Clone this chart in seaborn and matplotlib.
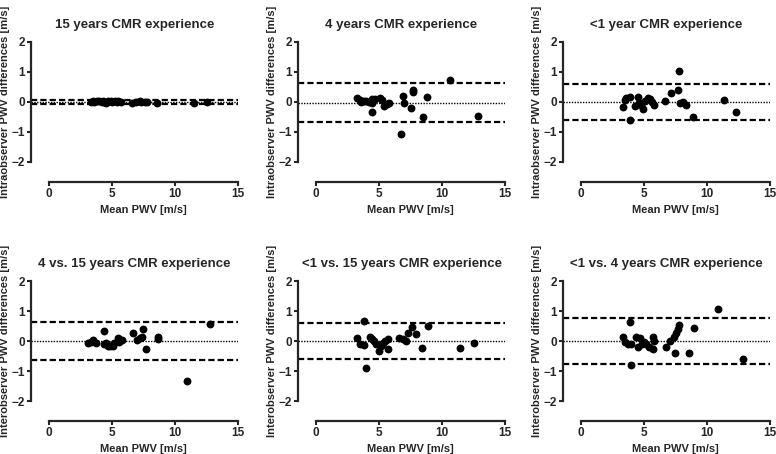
import matplotlib
matplotlib.use("Agg")
import matplotlib.pyplot as plt
import seaborn as sns
import pandas as pd

# Bland-Altman data: mean PWV [m/s] and difference [m/s]
titles = [
    "15 years CMR experience",
    "4 years CMR experience",
    "<1 year CMR experience",
    "4 vs. 15 years CMR experience",
    "<1 vs. 15 years CMR experience",
    "<1 vs. 4 years CMR experience",
]
ylabels = ["Intraobserver PWV differences [m/s]"] * 3 + ["Interobserver PWV differences [m/s]"] * 3

mean1 = [3.3, 3.5, 3.6, 3.8, 4.0, 4.2, 4.3, 4.4, 4.5, 4.7, 4.9, 5.0, 5.2, 5.4, 5.5, 5.7,
         6.6, 6.9, 7.2, 7.3, 7.6, 7.8, 8.6, 11.5, 12.5]
diff1 = [0.01, 0.02, -0.01, 0.02, 0.03, 0.0, 0.04, 0.01, -0.02, 0.02, 0.03, 0.01, 0.02, 0.0, 0.03, 0.01,
         -0.02, 0.0, 0.02, -0.01, 0.01, 0.0, -0.03, -0.02, -0.01]
lim1 = [0.0, 0.07, -0.07]  # bias, upper, lower

mean2 = [3.25, 3.52, 3.57, 3.84, 4.0, 4.23, 4.42, 4.44, 4.42, 4.68, 5.08, 5.21, 5.42, 5.63, 5.77,
         6.75, 6.93, 7.01, 7.54, 7.67, 7.70, 8.52, 8.78, 10.66, 12.86]
diff2 = [0.12, 0.07, -0.01, 0.03, 0.05, -0.01, 0.10, -0.04, -0.32, 0.10, 0.14, 0.07, -0.13, -0.08, -0.04,
         -1.06, 0.20, -0.03, -0.19, 0.40, 0.32, -0.51, 0.18, 0.75, -0.45]
lim2 = [-0.02, 0.63, -0.66]

mean3 = [3.31, 3.49, 3.57, 3.86, 3.92, 4.31, 4.55, 4.63, 4.76, 4.89, 5.08, 5.34, 5.48, 5.66, 5.77,
         6.67, 7.17, 7.70, 7.78, 7.86, 8.07, 8.31, 8.89, 11.38, 12.30]
diff3 = [-0.18, 0.07, 0.12, 0.18, -0.60, -0.13, 0.18, -0.04, -0.10, -0.24, 0.04, 0.12, 0.09, 0.01, -0.09,
         0.03, 0.30, 0.41, 1.04, -0.02, -0.01, -0.09, -0.49, 0.07, -0.32]
lim3 = [0.01, 0.61, -0.59]

mean4 = [3.12, 3.30, 3.51, 3.70, 4.36, 4.33, 4.52, 4.70, 4.83, 5.04, 5.18, 5.44, 5.57, 5.76,
         6.68, 6.97, 7.21, 7.40, 7.42, 7.66, 8.66, 8.66, 10.93, 12.78]
diff4 = [-0.06, -0.02, 0.03, -0.08, 0.35, -0.10, -0.06, -0.17, -0.15, -0.17, -0.06, 0.11, -0.02, 0.03,
         0.28, 0.03, 0.11, 0.15, 0.41, -0.28, 0.15, 0.06, -1.32, 0.58]
lim4 = [0.0, 0.64, -0.64]

mean5 = [3.26, 3.52, 3.84, 3.84, 3.95, 4.29, 4.45, 4.61, 4.80, 4.98, 5.12, 5.30, 5.51, 5.70, 5.72,
         6.57, 6.92, 7.16, 7.32, 7.58, 7.90, 8.45, 8.88, 11.45, 12.51]
diff5 = [0.10, -0.10, 0.66, -0.14, -0.90, 0.15, 0.07, 0.0, -0.10, -0.34, -0.16, -0.06, 0.0, -0.28, 0.07,
         0.10, 0.07, 0.0, 0.27, 0.47, 0.23, -0.23, 0.51, -0.24, -0.06]
lim5 = [0.0, 0.59, -0.59]

mean6 = [3.32, 3.50, 3.72, 3.90, 3.96, 3.96, 4.38, 4.49, 4.67, 4.83, 5.02, 5.18, 5.36, 5.71, 5.71, 5.81,
         6.77, 7.03, 7.35, 7.43, 7.55, 7.68, 7.80, 8.55, 8.95, 10.86, 12.82]
diff6 = [0.15, -0.02, -0.10, 0.62, -0.10, -0.79, 0.15, -0.21, 0.11, -0.10, -0.03, -0.10, -0.19, -0.28, 0.12, 0.0,
         -0.21, 0.0, 0.13, -0.40, 0.27, 0.40, 0.52, -0.40, 0.43, 1.08, -0.61]
lim6 = [0.0, 0.77, -0.76]

means = [mean1, mean2, mean3, mean4, mean5, mean6]
diffs = [diff1, diff2, diff3, diff4, diff5, diff6]
limits = [lim1, lim2, lim3, lim4, lim5, lim6]

sns.set_style("ticks")
plt.rcParams["font.family"] = ["Liberation Sans", "DejaVu Sans"]
plt.rcParams["font.weight"] = "bold"

fig = plt.figure(figsize=(7.76, 4.54), dpi=100)
W, H = 776, 454
col_left = [31, 298, 563]
row_top = [42, 281]
ax_w, ax_h = 207, 120

for i in range(6):
    r, c = divmod(i, 3)
    ax = fig.add_axes([col_left[c] / W, 1 - (row_top[r] + ax_h) / H, ax_w / W, ax_h / H])
    df = pd.DataFrame({"mean": means[i], "diff": diffs[i]})
    sns.scatterplot(data=df, x="mean", y="diff", ax=ax, color="black", s=32,
                    linewidth=0, zorder=3)
    bias, upper, lower = limits[i]
    ax.axhline(bias, color="black", lw=1.0, ls=(0, (1, 1)), zorder=2)
    ax.axhline(upper, color="black", lw=1.6, ls=(0, (2.8, 1.4)), zorder=2)
    ax.axhline(lower, color="black", lw=1.6, ls=(0, (2.8, 1.4)), zorder=2)

    ax.set_xlim(-1.43, 15)
    ax.set_ylim(-2, 2)
    ax.set_xticks([0, 5, 10, 15])
    ax.set_yticks([-2, -1, 0, 1, 2])
    sns.despine(ax=ax)
    # 20 px below the y range, as in the Prism-style original
    ax.spines["bottom"].set_position(("outward", 14.4))
    ax.spines["bottom"].set_bounds(0, 15)
    for s in ("left", "bottom"):
        ax.spines[s].set_linewidth(1.6)
    ax.tick_params(width=1.5, length=3, pad=1.5, labelsize=8.5)
    for lab in ax.get_xticklabels() + ax.get_yticklabels():
        lab.set_fontweight("bold")

    ax.set_title(titles[i], fontsize=9.5, fontweight="bold", pad=10)
    ax.set_xlabel("Mean PWV [m/s]", fontsize=8, fontweight="bold")
    ax.set_ylabel(ylabels[i], fontsize=8, fontweight="bold")
    ax.xaxis.set_label_coords(0.543, -0.36)
    ax.yaxis.set_label_coords(-0.10, 0.5)

fig.savefig("out.png", dpi=100)
